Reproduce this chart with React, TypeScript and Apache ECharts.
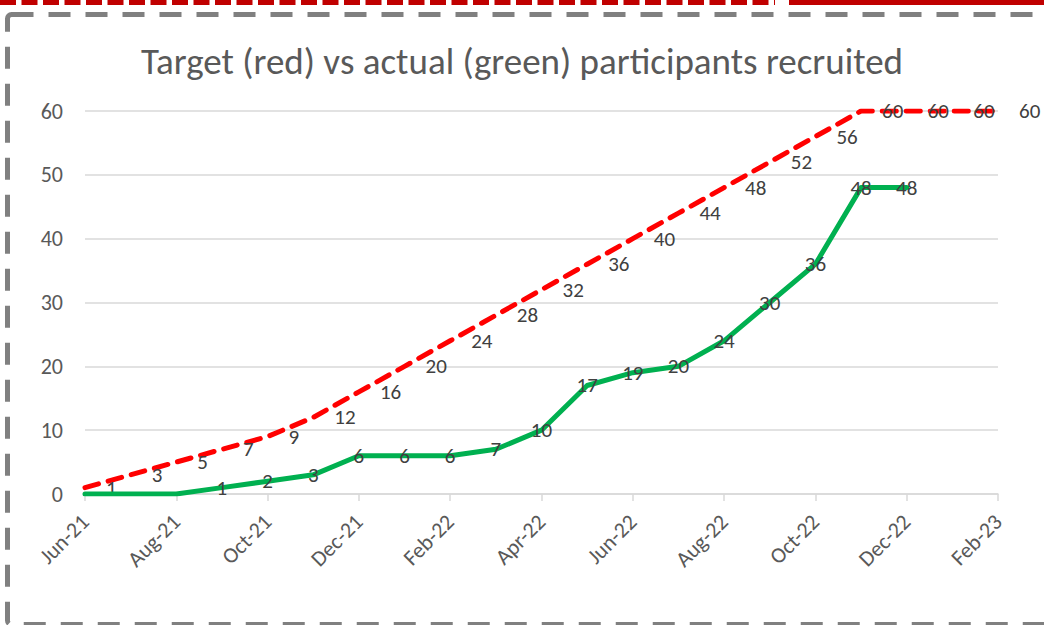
import React, { useEffect, useRef } from "react";
import * as echarts from "echarts";

const months = [
  "Jun-21", "Jul-21", "Aug-21", "Sep-21", "Oct-21", "Nov-21", "Dec-21",
  "Jan-22", "Feb-22", "Mar-22", "Apr-22", "May-22", "Jun-22", "Jul-22",
  "Aug-22", "Sep-22", "Oct-22", "Nov-22", "Dec-22", "Jan-23", "Feb-23",
];
const targetValues = [1, 3, 5, 7, 9, 12, 16, 20, 24, 28, 32, 36, 40, 44, 48, 52, 56, 60, 60, 60, 60];
const actualValues: (number | null)[] = [0, 0, 0, 1, 2, 3, 6, 6, 6, 7, 10, 17, 19, 20, 24, 30, 36, 48, 48, null, null];
const yTicks = { min: 0, max: 60, interval: 10 };
const titleText = "Target (red) vs actual (green) participants recruited";

const FONT = "Carlito, Lato, sans-serif";

export default function App() {
  const ref = useRef<HTMLDivElement>(null);
  useEffect(() => {
    if (!ref.current) return;
    const chart = echarts.init(ref.current, undefined, { renderer: "svg" });
    chart.setOption({
      animation: false,
      backgroundColor: "#ffffff",
      title: {
        text: titleText,
        left: "center",
        top: 38,
        textStyle: { fontFamily: FONT, fontSize: 37, fontWeight: "normal", color: "#595959" },
      },
      grid: { left: 85, right: 46, top: 111, bottom: 131, containLabel: false },
      xAxis: {
        type: "category",
        data: months,
        boundaryGap: false,
        axisLine: { lineStyle: { color: "#d9d9d9", width: 1.5 } },
        axisTick: { show: true, interval: 1, length: 7, lineStyle: { color: "#d9d9d9", width: 1.5 } },
        axisLabel: {
          interval: 1,
          rotate: 45,
          margin: 24,
          color: "#595959",
          fontFamily: FONT,
          fontSize: 22,
        },
        splitLine: { show: false },
      },
      yAxis: {
        type: "value",
        min: yTicks.min,
        max: yTicks.max,
        interval: yTicks.interval,
        axisLine: { show: false },
        axisTick: { show: false },
        axisLabel: { margin: 22, color: "#595959", fontFamily: FONT, fontSize: 22 },
        splitLine: { lineStyle: { color: "#d9d9d9", width: 1.5 } },
      },
      series: [
        {
          name: "Target",
          type: "line",
          data: targetValues,
          showSymbol: true,
          showAllSymbol: true,
          symbol: "circle",
          symbolSize: 4,
          itemStyle: { color: "rgba(0,0,0,0)" },
          lineStyle: { color: "#ff0000", width: 5, type: [14, 10], cap: "round", join: "round" },
          label: {
            show: true,
            position: "right",
            distance: 19,
            color: "#404040",
            fontFamily: FONT,
            fontSize: 21,
          },
          labelLayout: { hideOverlap: false },
          z: 2,
        },
        {
          name: "Actual",
          type: "line",
          data: actualValues,
          showSymbol: true,
          showAllSymbol: true,
          symbol: "circle",
          symbolSize: 4,
          itemStyle: { color: "rgba(0,0,0,0)" },
          lineStyle: { color: "#00b050", width: 5, cap: "round", join: "round" },
          label: {
            show: true,
            position: "inside",
            color: "#404040",
            fontFamily: FONT,
            fontSize: 21,
            formatter: (p: any) => (p.value === 0 || p.value == null ? "" : String(p.value)),
          },
          labelLayout: { hideOverlap: false },
          z: 3,
        },
      ],
      graphic: [
        {
          type: "rect",
          shape: { x: 7.5, y: 14.5, width: 1050, height: 610, r: 4 },
          style: { fill: "none", stroke: "#808080", lineWidth: 5, lineDash: [22, 15] },
          silent: true,
          z: -1,
        },
        {
          type: "line",
          shape: { x1: 0, y1: 2.5, x2: 775, y2: 2.5 },
          style: { stroke: "#c00000", lineWidth: 5, lineDash: [16, 5.5] },
          silent: true,
        },
        {
          type: "line",
          shape: { x1: 789, y1: 2.5, x2: 1044, y2: 2.5 },
          style: { stroke: "#c00000", lineWidth: 5 },
          silent: true,
        },
      ],
    });
    return () => chart.dispose();
  }, []);
  return (
    <div
      ref={ref}
      style={{ position: "fixed", left: 0, top: 0, width: 1044, height: 625 }}
    />
  );
}
